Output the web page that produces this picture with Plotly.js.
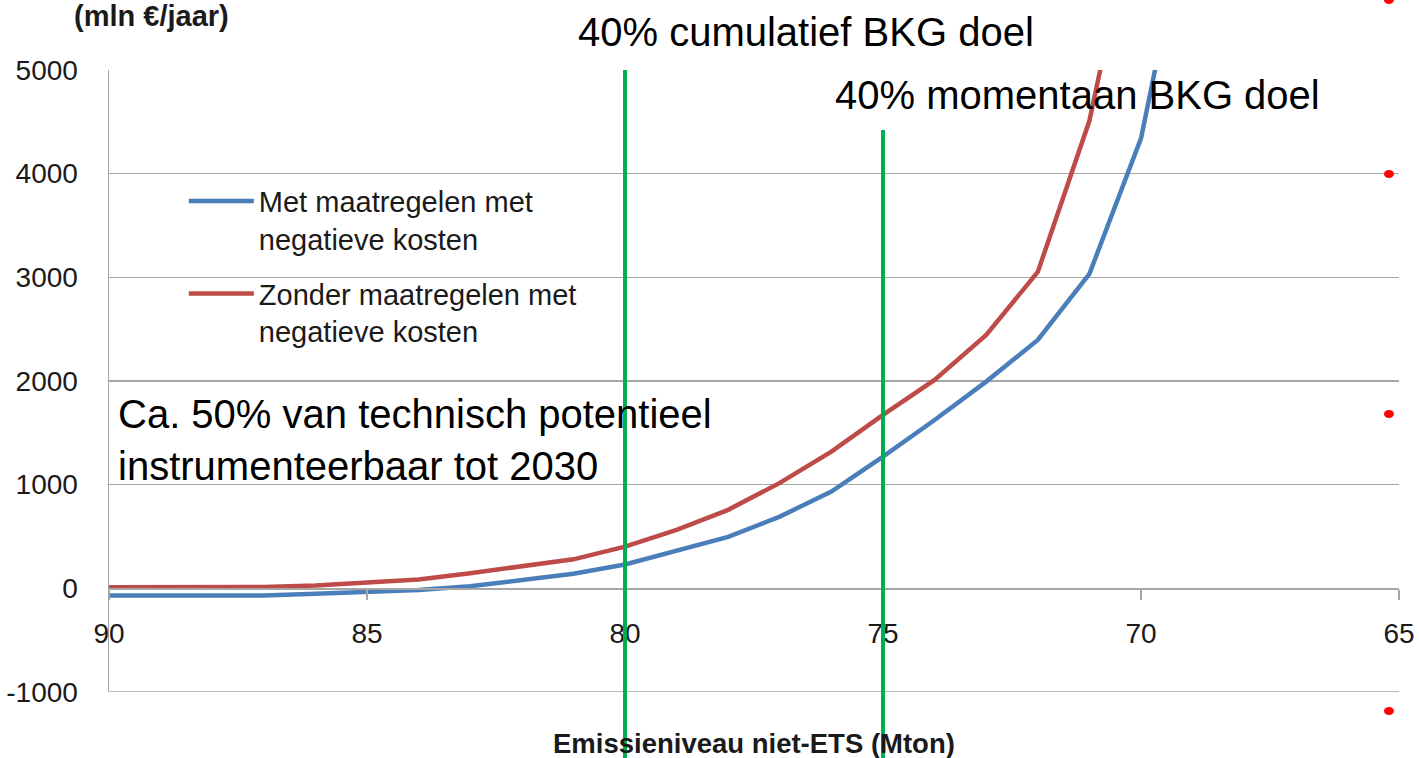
<!DOCTYPE html>
<html>
<head>
<meta charset="utf-8">
<script src="https://cdn.plot.ly/plotly-3.0.1.min.js"></script>
<style>html,body{margin:0;padding:0;background:#fff;}#chart{width:1419px;height:758px;}</style>
</head>
<body>
<div id="chart"></div>
<script>
// Emission level (Mton), x axis runs from 90 down to 65
const emissie = [90, 89, 88, 87, 86, 85, 84, 83, 82, 81, 80, 79, 78, 77, 76, 75, 74, 73, 72, 71, 70, 69];
// Cost (mln €/jaar)
const metNegatief = [-70, -70, -70, -68, -52, -35, -15, 20, 75, 140, 230, 365, 496, 692, 934, 1271, 1624, 1994, 2396, 3033, 4340, 6770];
const zonderNegatief = [10, 10, 10, 12, 28, 52, 85, 146, 210, 280, 403, 564, 757, 1017, 1319, 1673, 2011, 2444, 3052, 4510, 6850, null];
const seriesNames = ["Met maatregelen met<br>negatieve kosten", "Zonder maatregelen met<br>negatieve kosten"];
const xTicks = [90, 85, 80, 75, 70, 65];
const yTicks = [-1000, 0, 1000, 2000, 3000, 4000, 5000];
// Target levels (Mton)
const doelCumulatief = 80;
const doelMomentaan = 75;

const FONT = "Liberation Sans, Arial, sans-serif";
const GRID = "#a6a6a6";

const traces = [
  {x: emissie, y: metNegatief, name: seriesNames[0], legendgroup: "a", type: "scatter", mode: "lines",
   line: {color: "#4a7ebb", width: 4.5}},
  {x: emissie, y: zonderNegatief, name: seriesNames[1], legendgroup: "b", type: "scatter", mode: "lines",
   line: {color: "#be4b48", width: 4.5}}
];

const layout = {
  width: 1419, height: 758,
  margin: {l: 109, r: 20, t: 70, b: 66},
  paper_bgcolor: "#fff", plot_bgcolor: "#fff",
  font: {family: FONT, size: 28, color: "#1a1a1a"},
  showlegend: true,
  legend: {x: 0.058, y: 0.83, xanchor: "left", yanchor: "top", bgcolor: "rgba(0,0,0,0)",
           font: {family: FONT, size: 29, color: "#1a1a1a"}, valign: "top",
           tracegroupgap: 14, itemwidth: 65},
  xaxis: {range: [90, 65], tickvals: xTicks, ticktext: xTicks.map(String),
          anchor: "free", position: 1/6, showline: true, linecolor: GRID, linewidth: 1.5,
          ticks: "outside", ticklen: 10, tickcolor: GRID, tickwidth: 1.5,
          ticklabelstandoff: 10, showgrid: false, zeroline: false,
          tickfont: {family: FONT, size: 28, color: "#1a1a1a"}},
  yaxis: {range: [-1000, 5000], tickvals: yTicks, ticktext: yTicks.map(String),
          showline: true, linecolor: GRID, linewidth: 1.5, ticks: "", ticklabelstandoff: 24,
          showgrid: true, gridcolor: GRID, gridwidth: 1.5, zeroline: false,
          tickfont: {family: FONT, size: 28, color: "#1a1a1a"}},
  shapes: [
    {type: "line", xref: "paper", yref: "y", x0: 0, x1: 1, y0: -1000, y1: -1000,
     line: {color: GRID, width: 1.5}, layer: "below"},
    {type: "line", xref: "x", yref: "paper", x0: doelCumulatief, x1: doelCumulatief,
     y0: -0.11, y1: 1, line: {color: "#00b050", width: 4}, layer: "above"},
    {type: "line", xref: "x", yref: "paper", x0: doelMomentaan, x1: doelMomentaan,
     y0: -0.11, y1: 0.9035, line: {color: "#00b050", width: 4}, layer: "above"},
    {type: "circle", xref: "paper", yref: "paper", xsizemode: "pixel", ysizemode: "pixel",
     xanchor: 0.9922, yanchor: 1.1125, x0: -5, x1: 5, y0: -4, y1: 4,
     fillcolor: "#ff0000", line: {width: 0}},
    {type: "circle", xref: "paper", yref: "paper", xsizemode: "pixel", ysizemode: "pixel",
     xanchor: 0.9922, yanchor: 0.8328, x0: -5, x1: 5, y0: -4, y1: 4,
     fillcolor: "#ff0000", line: {width: 0}},
    {type: "circle", xref: "paper", yref: "paper", xsizemode: "pixel", ysizemode: "pixel",
     xanchor: 0.9922, yanchor: 0.4469, x0: -5, x1: 5, y0: -4, y1: 4,
     fillcolor: "#ff0000", line: {width: 0}},
    {type: "circle", xref: "paper", yref: "paper", xsizemode: "pixel", ysizemode: "pixel",
     xanchor: 0.9922, yanchor: -0.0305, x0: -5, x1: 5, y0: -4, y1: 4,
     fillcolor: "#ff0000", line: {width: 0}}
  ],
  annotations: [
    {text: "<b>(mln €/jaar)</b>", xref: "paper", yref: "paper", x: 0.0326, y: 1.0868,
     xanchor: "center", yanchor: "middle", showarrow: false,
     font: {family: FONT, size: 29, color: "#1a1a1a"}},
    {text: "<b>Emissieniveau niet-ETS (Mton)</b>", xref: "paper", yref: "paper", x: 0.5, y: -0.0836,
     xanchor: "center", yanchor: "middle", showarrow: false,
     font: {family: FONT, size: 27.5, color: "#1a1a1a"}},
    {text: "40% cumulatief BKG doel", xref: "paper", yref: "paper", x: 0.5403, y: 1.0611,
     xanchor: "center", yanchor: "middle", showarrow: false,
     font: {family: FONT, size: 40, color: "#000"}},
    {text: "40% momentaan BKG doel", xref: "paper", yref: "paper", x: 0.7504, y: 0.9598,
     xanchor: "center", yanchor: "middle", showarrow: false,
     font: {family: FONT, size: 40, color: "#000"}},
    {text: "Ca. 50% van technisch potentieel<br>instrumenteerbaar tot 2030", xref: "paper", yref: "paper",
     x: 0.0054, y: 0.405, xanchor: "left", yanchor: "middle", align: "left", showarrow: false,
     font: {family: FONT, size: 40, color: "#000"}}
  ]
};

Plotly.newPlot("chart", traces, layout, {displayModeBar: false, staticPlot: true});
</script>
</body>
</html>
